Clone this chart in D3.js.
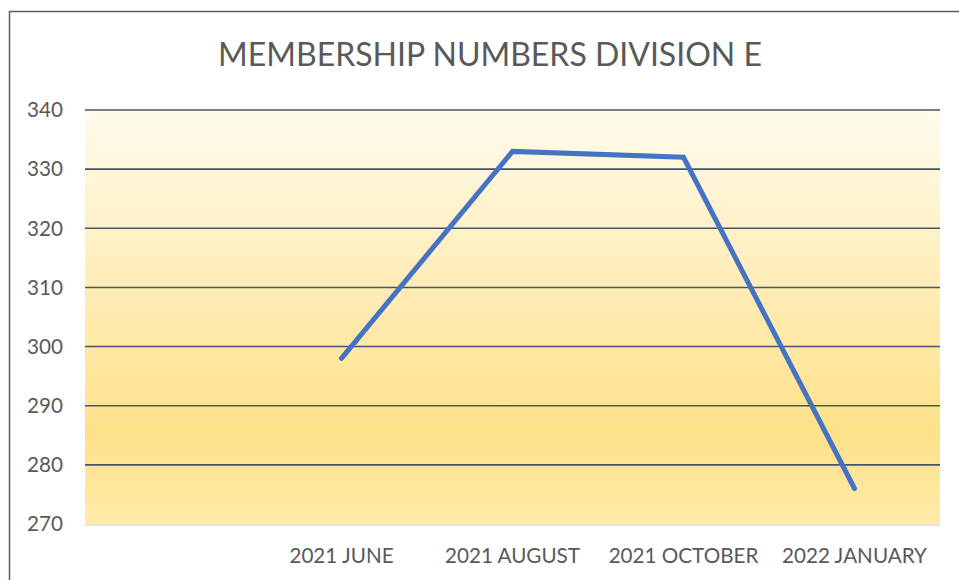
<!DOCTYPE html>
<html>
<head>
<meta charset="utf-8">
<script src="https://cdn.jsdelivr.net/npm/d3@7"></script>
<style>
  html, body { margin: 0; padding: 0; background: #fff; }
  svg { display: block; }
  text { font-family: Lato, "Open Sans", sans-serif; fill: #595959; }
</style>
</head>
<body>
<div id="chart"></div>
<script>
// chart data
const title = "MEMBERSHIP NUMBERS DIVISION E";
const categories = ["", "2021 JUNE", "2021 AUGUST", "2021 OCTOBER", "2022 JANUARY"];
const members = [null, 298, 333, 332, 276];
const yTicks = [270, 280, 290, 300, 310, 320, 330, 340];

const width = 959, height = 580;
const margin = {top: 110, right: 19, bottom: 56, left: 85};

const svg = d3.select("#chart")
  .append("svg")
  .attr("width", width)
  .attr("height", height);

// gradient fill for the plot area
const grad = svg.append("defs")
  .append("linearGradient")
  .attr("id", "plotFill")
  .attr("x1", 0).attr("y1", 0)
  .attr("x2", 0).attr("y2", 1);
grad.append("stop").attr("offset", "0%").attr("stop-color", "#fffbed");
grad.append("stop").attr("offset", "78%").attr("stop-color", "#ffe18a");
grad.append("stop").attr("offset", "100%").attr("stop-color", "#ffeaa8");

// outer chart border (only top + left visible in the crop)
svg.append("path")
  .attr("d", `M9.5,${height} V11.5 H${width}`)
  .attr("fill", "none")
  .attr("stroke", "#4f5f77")
  .attr("stroke-width", 1.5);

const x = d3.scaleBand()
  .domain(categories)
  .range([margin.left, width - margin.right]);

const y = d3.scaleLinear()
  .domain([270, 340])
  .range([height - margin.bottom, margin.top]);

svg.append("rect")
  .attr("x", margin.left)
  .attr("y", margin.top)
  .attr("width", x.range()[1] - x.range()[0])
  .attr("height", y(270) - y(340))
  .attr("fill", "url(#plotFill)");

// gridlines
svg.append("g")
  .selectAll("line")
  .data(yTicks.filter(d => d !== 270))
  .join("line")
  .attr("x1", margin.left)
  .attr("x2", width - margin.right)
  .attr("y1", d => y(d))
  .attr("y2", d => y(d))
  .attr("stroke", "#44546a")
  .attr("stroke-width", 1.6);

// bottom axis line
svg.append("line")
  .attr("x1", margin.left)
  .attr("x2", width - margin.right)
  .attr("y1", y(270) + 1)
  .attr("y2", y(270) + 1)
  .attr("stroke", "#d9d9d9")
  .attr("stroke-width", 1.5);

// fit a text node to a target width
function fitWidth(sel, target, startSize) {
  sel.attr("font-size", startSize);
  const w = sel.node().getComputedTextLength();
  sel.attr("font-size", startSize * target / w);
}

// y tick labels
const yLabels = svg.append("g")
  .selectAll("text")
  .data(yTicks)
  .join("text")
  .attr("x", 63)
  .attr("y", d => y(d))
  .attr("dy", "0.35em")
  .attr("text-anchor", "end")
  .text(d => d);
yLabels.each(function() { fitWidth(d3.select(this), 36, 20); });

// x tick labels
const xLabels = svg.append("g")
  .selectAll("text")
  .data(categories.filter(d => d !== ""))
  .join("text")
  .attr("x", d => x(d) + x.bandwidth() / 2)
  .attr("y", 563)
  .attr("text-anchor", "middle")
  .text(d => d);
const refLabel = xLabels.filter(d => d === "2022 JANUARY");
fitWidth(refLabel, 145, 19);
xLabels.attr("font-size", refLabel.attr("font-size"));

// title
const titleText = svg.append("text")
  .attr("x", 490)
  .attr("y", 66)
  .attr("text-anchor", "middle")
  .text(title);
fitWidth(titleText, 544, 30);

// the series line
const line = d3.line()
  .defined(d => d.v !== null)
  .x(d => x(d.c) + x.bandwidth() / 2)
  .y(d => y(d.v));

svg.append("path")
  .datum(categories.map((c, i) => ({c: c, v: members[i]})))
  .attr("d", line)
  .attr("fill", "none")
  .attr("stroke", "#4472c4")
  .attr("stroke-width", 5)
  .attr("stroke-linecap", "round")
  .attr("stroke-linejoin", "miter");
</script>
</body>
</html>
